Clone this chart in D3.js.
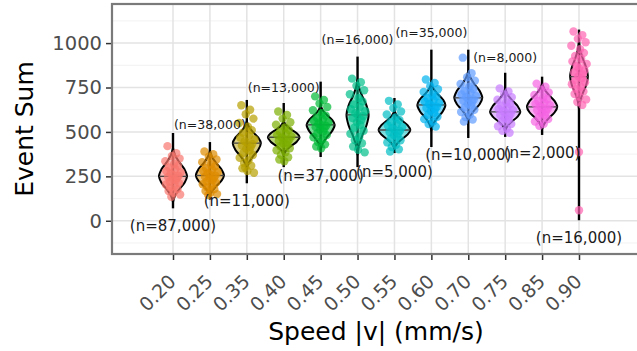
<!DOCTYPE html>
<html>
<head>
<meta charset="utf-8">
<script src="https://cdn.jsdelivr.net/npm/d3@7"></script>
<style>
body { margin: 0; background: #fff; }
text { font-family: "DejaVu Sans", sans-serif; }
</style>
</head>
<body>
<script>
// categories (speed) and colours
var speeds = ["0.20","0.25","0.35","0.40","0.45","0.50","0.55","0.60","0.70","0.75","0.85","0.90"];
var colors = ["#F8766D","#DE8C00","#B79F00","#7CAE00","#00BA38","#00C08B","#00BFC4","#00B4F0","#619CFF","#C77CFF","#F564E3","#FF64B0"];

// summary values
var medians  = [250, 255, 437, 470, 540, 596, 511, 652, 692, 613, 641, 811];
var rangeMin = [70, 120, 211, 302, 359, 302, 381, 415, 466, 472, 483, 3];
var rangeMax = [494, 443, 680, 663, 783, 924, 691, 963, 963, 833, 811, 1076];
var violinLo = [105, 135, 290, 370, 400, 370, 405, 510, 555, 505, 515, 630];
var violinHi = [410, 395, 560, 560, 650, 800, 620, 775, 845, 745, 775, 1010];
var violinW  = [0.38, 0.38, 0.38, 0.43, 0.38, 0.30, 0.43, 0.38, 0.38, 0.41, 0.41, 0.24];

// sample labels
var nLabels = ["(n=87,000)","(n=38,000)","(n=11,000)","(n=13,000)","(n=37,000)","(n=16,000)",
               "(n=5,000)","(n=35,000)","(n=10,000)","(n=8,000)","(n=2,000)","(n=16,000)"];
var labelY  = [-25, 540, 116, 749, 257, 1020, 274, 1059, 370, 918, 381, -93];
var labelBig = [true, false, true, false, true, false, true, false, true, false, true, true];

// jittered observations
var points = [
  [420, 380, 365, 350, 335, 320, 310, 300, 290, 280, 272, 265, 258, 252, 246, 240, 234, 228, 220, 212, 204, 196, 188, 178, 168, 158, 148, 135],
  [390, 375, 360, 345, 330, 318, 306, 296, 288, 280, 273, 266, 260, 254, 248, 242, 236, 229, 222, 214, 206, 197, 188, 178, 168, 158, 150, 145],
  [650, 625, 600, 575, 550, 530, 510, 495, 480, 468, 458, 448, 440, 432, 424, 415, 405, 395, 383, 370, 355, 340, 325, 310, 295, 280, 270, 300],
  [615, 595, 575, 555, 540, 525, 512, 500, 490, 482, 475, 468, 462, 456, 449, 442, 435, 427, 418, 408, 397, 385, 372, 358, 345, 335],
  [700, 680, 660, 640, 622, 606, 592, 580, 570, 561, 553, 546, 540, 534, 527, 520, 512, 503, 493, 482, 470, 457, 443, 430, 418, 408],
  [800, 780, 760, 735, 712, 690, 672, 655, 640, 628, 617, 606, 597, 588, 578, 567, 555, 540, 524, 507, 490, 472, 454, 436, 418, 400, 385],
  [675, 655, 635, 615, 598, 582, 568, 556, 545, 536, 528, 520, 513, 506, 499, 491, 483, 474, 464, 453, 441, 428, 415, 402, 390],
  [795, 775, 757, 740, 725, 712, 700, 690, 680, 671, 663, 656, 649, 642, 635, 627, 618, 608, 597, 585, 572, 558, 544, 530],
  [918, 830, 808, 788, 770, 755, 742, 730, 720, 711, 703, 696, 689, 682, 675, 667, 658, 648, 637, 625, 612, 598, 584, 570, 558],
  [745, 728, 711, 695, 681, 668, 657, 647, 638, 630, 623, 616, 609, 602, 595, 587, 578, 568, 557, 545, 532, 519, 506, 495],
  [772, 755, 738, 722, 708, 695, 684, 674, 665, 657, 650, 643, 636, 629, 622, 614, 605, 595, 584, 572, 559, 546, 535],
  [1065, 1045, 1025, 1005, 985, 965, 945, 928, 912, 897, 883, 870, 858, 846, 835, 824, 813, 802, 791, 780, 768, 755, 742, 728, 713, 698, 683, 668, 652, 387, 59]
];

var yTicks = [0, 250, 500, 750, 1000];
var yMinor = [-125, 125, 375, 625, 875, 1125];

var width = 637, height = 351;
var panel = {left: 112, top: 4, right: 645, bottom: 254};

var svg = d3.select("body").append("svg")
  .attr("width", width)
  .attr("height", height);

var x = d3.scalePoint()
  .domain(speeds)
  .range([173, 579]);
var step = x.step();

var y = d3.scaleLinear()
  .domain([-187, 1220])
  .range([panel.bottom, panel.top]);

// grid
svg.selectAll(".minor")
  .data(yMinor)
  .enter().append("line")
  .attr("x1", panel.left).attr("x2", panel.right)
  .attr("y1", function(d){ return y(d); })
  .attr("y2", function(d){ return y(d); })
  .attr("stroke", "#f0f0f0").attr("stroke-width", 0.9);

svg.selectAll(".major")
  .data(yTicks)
  .enter().append("line")
  .attr("x1", panel.left).attr("x2", panel.right)
  .attr("y1", function(d){ return y(d); })
  .attr("y2", function(d){ return y(d); })
  .attr("stroke", "#e3e3e3").attr("stroke-width", 1.5);

svg.selectAll(".vgrid")
  .data(speeds)
  .enter().append("line")
  .attr("x1", function(d){ return x(d); })
  .attr("x2", function(d){ return x(d); })
  .attr("y1", panel.top).attr("y2", panel.bottom)
  .attr("stroke", "#e3e3e3").attr("stroke-width", 1.5);

// violin outline template (relative position, relative width)
var shape = [[-1,0],[-0.75,0.15],[-0.5,0.45],[-0.25,0.82],[0,1],[0.25,0.82],[0.5,0.45],[0.75,0.15],[1,0]];

var g = svg.append("g");

speeds.forEach(function(s, i){
  var cx = x(s);
  var c = colors[i];
  // vertical range line
  g.append("line")
    .attr("x1", cx).attr("x2", cx)
    .attr("y1", y(rangeMin[i])).attr("y2", y(rangeMax[i]))
    .attr("stroke", "black").attr("stroke-width", 2.4);

  var prof = shape.map(function(p){
    var v = p[0] < 0 ? medians[i] + p[0] * (medians[i] - violinLo[i])
                     : medians[i] + p[0] * (violinHi[i] - medians[i]);
    return [v, p[1] * violinW[i] * step];
  });
  var right = prof.map(function(p){ return [cx + p[1], y(p[0])]; });
  var left = prof.slice().reverse().map(function(p){ return [cx - p[1], y(p[0])]; });
  var line = d3.line().curve(d3.curveCatmullRom);
  g.append("path")
    .attr("d", line(right) + "L" + line(left).slice(1) + "Z")
    .attr("fill", c).attr("fill-opacity", 0.5)
    .attr("stroke", "black").attr("stroke-width", 2);

  g.append("line")
    .attr("x1", cx - violinW[i] * step).attr("x2", cx + violinW[i] * step)
    .attr("y1", y(medians[i])).attr("y2", y(medians[i]))
    .attr("stroke", "#444").attr("stroke-width", 1.3);
});

// jittered points
var jitter = [-0.5, 0.3, -0.1, 0.6, -0.7, 0.1, 0.45, -0.35, 0.2, -0.6, 0.7, -0.2, 0.0, 0.5, -0.45, 0.35, -0.05, 0.25, -0.3, 0.55, -0.65, 0.15, -0.25, 0.4, -0.4, 0.05, 0.65, -0.15, 0.3, 0, 0];
speeds.forEach(function(s, i){
  g.selectAll(".pt" + i)
    .data(points[i])
    .enter().append("circle")
    .attr("cx", function(d, j){ return x(s) + jitter[j] * 11; })
    .attr("cy", function(d){ return y(d); })
    .attr("r", 4.2)
    .attr("fill", colors[i])
    .attr("fill-opacity", 0.7);
});

// n labels
svg.selectAll(".nlab")
  .data(nLabels)
  .enter().append("text")
  .attr("x", function(d, i){ return x(speeds[i]); })
  .attr("y", function(d, i){ return y(labelY[i]); })
  .attr("dy", "0.36em")
  .attr("text-anchor", "middle")
  .attr("font-size", function(d, i){ return labelBig[i] ? "15px" : "12.5px"; })
  .attr("fill", "#1a1a1a")
  .text(function(d){ return d; });

// panel border (right side runs off the image)
svg.append("rect")
  .attr("x", panel.left).attr("y", panel.top)
  .attr("width", panel.right - panel.left).attr("height", panel.bottom - panel.top)
  .attr("fill", "none").attr("stroke", "#7a7a7a").attr("stroke-width", 2.2);

// axes
var yAxis = d3.axisLeft(y).tickValues(yTicks).tickFormat(d3.format("d")).tickSize(5).tickPadding(4);
var ya = svg.append("g")
  .attr("transform", "translate(" + (panel.left - 1) + ",0)")
  .call(yAxis);
ya.select(".domain").remove();
ya.selectAll("line").attr("stroke", "#333").attr("stroke-width", 1.5);
ya.selectAll("text").attr("font-size", "19.5px").attr("fill", "#4d4d4d")
  .attr("font-family", "DejaVu Sans");

var xAxis = d3.axisBottom(x).tickSize(5).tickPadding(3);
var xa = svg.append("g")
  .attr("transform", "translate(0," + (panel.bottom + 1) + ")")
  .call(xAxis);
xa.select(".domain").remove();
xa.selectAll("line").attr("stroke", "#333").attr("stroke-width", 1.5);
xa.selectAll("text")
  .attr("font-size", "19px").attr("fill", "#4d4d4d")
  .attr("font-family", "DejaVu Sans")
  .attr("text-anchor", "end")
  .attr("dy", null)
  .attr("transform", "translate(-2,22) rotate(-45)");

// titles
svg.append("text")
  .attr("x", 376).attr("y", 340)
  .attr("text-anchor", "middle")
  .attr("font-size", "25px")
  .text("Speed |v| (mm/s)");

svg.append("text")
  .attr("transform", "translate(33,129) rotate(-90)")
  .attr("text-anchor", "middle")
  .attr("font-size", "25px")
  .text("Event Sum");
</script>
</body>
</html>
